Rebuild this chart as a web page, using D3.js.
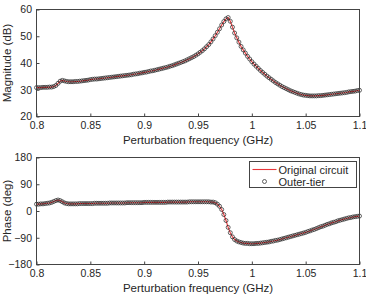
<!DOCTYPE html>
<html>
<head>
<meta charset="utf-8">
<script src="https://cdn.jsdelivr.net/npm/d3@7"></script>
<style>
  html, body { margin: 0; padding: 0; background: #fff; }
  svg { display: block; }
  text { font-family: "Liberation Sans", Arial, Helvetica, sans-serif; fill: #262626; }
</style>
</head>
<body>
<svg id="chart" width="366" height="296"></svg>
<script>
// ---------------- DATA ----------------
const freqGHz = [
  0.800,0.802,0.804,0.806,0.808,0.810,0.812,0.814,0.816,0.818,
  0.820,0.822,0.824,0.826,0.828,0.830,0.832,0.834,0.836,0.838,
  0.840,0.842,0.844,0.846,0.848,0.850,0.852,0.854,0.856,0.858,
  0.860,0.862,0.864,0.866,0.868,0.870,0.872,0.874,0.876,0.878,
  0.880,0.882,0.884,0.886,0.888,0.890,0.892,0.894,0.896,0.898,
  0.900,0.902,0.904,0.906,0.908,0.910,0.912,0.914,0.916,0.918,
  0.920,0.922,0.924,0.926,0.928,0.930,0.932,0.934,0.936,0.938,
  0.940,0.942,0.944,0.946,0.948,0.950,0.952,0.954,0.956,0.958,
  0.960,0.962,0.964,0.966,0.968,0.970,0.972,0.974,0.976,0.978,
  0.980,0.982,0.984,0.986,0.988,0.990,0.992,0.994,0.996,0.998,
  1.000,1.002,1.004,1.006,1.008,1.010,1.012,1.014,1.016,1.018,
  1.020,1.022,1.024,1.026,1.028,1.030,1.032,1.034,1.036,1.038,
  1.040,1.042,1.044,1.046,1.048,1.050,1.052,1.054,1.056,1.058,
  1.060,1.062,1.064,1.066,1.068,1.070,1.072,1.074,1.076,1.078,
  1.080,1.082,1.084,1.086,1.088,1.090,1.092,1.094,1.096,1.098,
  1.100
];
const magnitudeDB = [
  30.8,30.8,30.8,30.9,30.9,30.9,31.0,31.0,31.2,31.6,
  32.4,33.2,33.5,33.3,33.1,33.0,33.0,33.0,33.1,33.1,
  33.2,33.3,33.4,33.5,33.6,33.8,33.9,34.0,34.0,34.1,
  34.2,34.3,34.4,34.5,34.6,34.7,34.8,34.9,35.0,35.1,
  35.2,35.3,35.4,35.5,35.6,35.8,35.9,36.0,36.2,36.3,
  36.5,36.6,36.8,37.0,37.1,37.3,37.5,37.7,37.9,38.1,
  38.3,38.5,38.8,39.0,39.3,39.6,39.9,40.2,40.5,40.8,
  41.2,41.6,42.0,42.4,42.9,43.4,44.0,44.6,45.3,46.1,
  46.9,47.9,49.0,50.2,51.5,52.8,54.2,55.5,56.5,57.0,
  55.6,53.4,51.2,49.4,47.8,46.2,44.9,43.7,42.5,41.5,
  40.5,39.6,38.8,38.0,37.2,36.5,35.8,35.1,34.5,33.9,
  33.3,32.7,32.2,31.7,31.2,30.8,30.4,30.0,29.6,29.3,
  29.0,28.7,28.4,28.2,28.0,27.9,27.8,27.7,27.7,27.7,
  27.7,27.8,27.8,27.9,28.0,28.1,28.2,28.3,28.4,28.5,
  28.6,28.7,28.8,28.9,29.0,29.2,29.3,29.4,29.5,29.7,
  29.8
];
const phaseDeg = [
  23,23,24,24,25,26,27,29,32,35,
  37,35,31,27,25,24,24,24,24,24,
  25,25,25,25,25,25,25,26,26,26,
  26,26,26,26,27,27,27,27,27,27,
  27,27,28,28,28,28,28,28,28,28,
  29,29,29,29,29,29,29,29,29,29,
  29,30,30,30,30,30,30,30,30,30,
  30,31,31,31,31,31,31,31,31,31,
  31,30,30,28,23,16,5,-12,-32,-55,
  -73,-87,-96,-101,-104,-106,-108,-109,-109,-110,
  -110,-110,-109,-109,-108,-107,-106,-105,-104,-102,
  -101,-99,-98,-96,-94,-92,-90,-88,-86,-84,
  -82,-80,-78,-76,-74,-72,-69,-67,-64,-62,
  -59,-56,-53,-51,-48,-45,-43,-40,-38,-36,
  -33,-31,-29,-27,-25,-23,-22,-20,-19,-18,
  -17
];
const xTicks = [0.8, 0.85, 0.9, 0.95, 1, 1.05, 1.1];
const magTicks = [20, 30, 40, 50, 60];
const phaseTicks = [-180, -90, 0, 90, 180];
const xTitle = "Perturbation frequency (GHz)";
const magTitle = "Magnitude (dB)";
const phaseTitle = "Phase (deg)";
const legendLabels = ["Original circuit", "Outer-tier"];

// ---------------- DRAW ----------------
const svg = d3.select("#chart");
const axisColor = "#444";
const lineColor = "#e8363a";
const markerColor = "#222";

const x = d3.scaleLinear().domain([0.8, 1.1]).range([36.5, 359.5]);

function panel(yDomain, yRange, yTicks, values, yTitleText) {
  const y = d3.scaleLinear().domain(yDomain).range(yRange);
  const g = svg.append("g");
  const data = freqGHz.map((f, i) => ({ f, v: values[i] }));

  // line (Original circuit)
  g.append("path")
    .datum(data)
    .attr("fill", "none")
    .attr("stroke", lineColor)
    .attr("stroke-width", 1.1)
    .attr("d", d3.line().x(d => x(d.f)).y(d => y(d.v)));

  // markers (Outer-tier)
  g.append("g").selectAll("circle")
    .data(data)
    .join("circle")
    .attr("cx", d => x(d.f))
    .attr("cy", d => y(d.v))
    .attr("r", 2)
    .attr("fill", "none")
    .attr("stroke", markerColor)
    .attr("stroke-width", 0.7);

  // axes
  const xAxis = d3.axisBottom(x).tickValues(xTicks).tickFormat(d3.format("~g"))
    .tickSizeInner(-3).tickSizeOuter(0).tickPadding(5);
  const gx = g.append("g").attr("transform", `translate(0,${yRange[0]})`).call(xAxis);
  const yAxis = d3.axisLeft(y).tickValues(yTicks).tickFormat(d3.format("~g"))
    .tickSizeInner(-3).tickSizeOuter(0).tickPadding(4.5);
  const gy = g.append("g").attr("transform", `translate(${x.range()[0]},0)`).call(yAxis);
  [gx, gy].forEach(a => {
    a.select(".domain").remove();
    a.selectAll(".tick line").attr("stroke", axisColor);
    a.selectAll(".tick text").attr("fill", "#262626")
      .style("font-size", "10.5px")
      .style("font-family", "'Liberation Sans', Arial, sans-serif");
  });

  // box
  g.append("rect")
    .attr("x", x.range()[0]).attr("y", yRange[1])
    .attr("width", x.range()[1] - x.range()[0])
    .attr("height", yRange[0] - yRange[1])
    .attr("fill", "none").attr("stroke", axisColor).attr("stroke-width", 1);

  // titles
  g.append("text")
    .attr("x", (x.range()[0] + x.range()[1]) / 2)
    .attr("y", yRange[0] + 27)
    .attr("text-anchor", "middle")
    .style("font-size", "11.5px")
    .text(xTitle);
  g.append("text")
    .attr("transform", `translate(10.5,${(yRange[0] + yRange[1]) / 2}) rotate(-90)`)
    .attr("text-anchor", "middle")
    .style("font-size", "11.5px")
    .text(yTitleText);
  return y;
}

panel([20, 60], [116.5, 9.5], magTicks, magnitudeDB, magTitle);
panel([-180, 180], [264.5, 157.5], phaseTicks, phaseDeg, phaseTitle);

// legend
const lg = svg.append("g");
lg.append("rect")
  .attr("x", 249.5).attr("y", 161.5).attr("width", 107).attr("height", 26)
  .attr("fill", "#fff").attr("stroke", axisColor).attr("stroke-width", 1);
lg.append("line")
  .attr("x1", 252.5).attr("x2", 276.5).attr("y1", 169.5).attr("y2", 169.5)
  .attr("stroke", lineColor).attr("stroke-width", 1.1);
lg.append("circle")
  .attr("cx", 264.5).attr("cy", 181.5).attr("r", 2)
  .attr("fill", "none").attr("stroke", markerColor).attr("stroke-width", 0.7);
lg.selectAll("text.leg")
  .data(legendLabels)
  .join("text")
  .attr("class", "leg")
  .attr("x", 278.5)
  .attr("y", (d, i) => 173.5 + i * 12)
  .style("font-size", "11px")
  .text(d => d);
</script>
</body>
</html>
